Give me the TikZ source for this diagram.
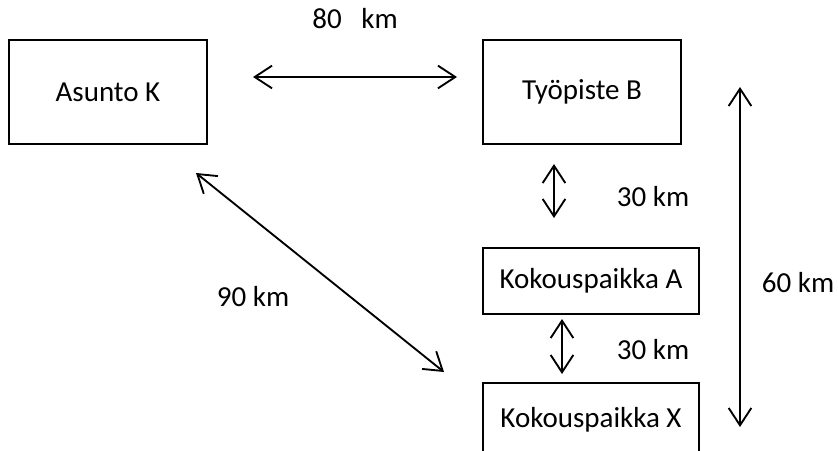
\documentclass[tikz,border=0pt]{standalone}
\usepackage{fontspec}
\setmainfont{Carlito}
\usetikzlibrary{arrows.meta}

\tikzset{
	paikka/.style={draw, line width=1.5pt, inner sep=0pt, font=\fontsize{21.75}{26}\selectfont},
	matka/.style={line width=1.4pt, {Straight Barb[length=13pt,width=17pt,line width=1.4pt]}-{Straight Barb[length=13pt,width=17pt,line width=1.4pt]}},
	lbl/.style={font=\fontsize{21.75}{26}\selectfont}
}

\begin{document}
\begin{tikzpicture}[x=0.75pt, y=-0.75pt]
		\clip (0,0) rectangle (838,450);
		\node[paikka, minimum width=148.5pt, minimum height=78pt] (asunto) at (108,92) {Asunto K};
		\node[paikka, minimum width=148.5pt, minimum height=78pt] (tyopiste) at (582,92) {Työpiste B};
		\node[paikka, minimum width=162pt, minimum height=49.5pt] (kokousA) at (591,281) {Kokouspaikka A};
		\node[paikka, minimum width=162pt, minimum height=55.5pt] (kokousX) at (591,420) {Kokouspaikka X};
		\draw[matka] ([shift={(45,-15)}]asunto.east) -- node[lbl, above=32pt]{80~~~km} ([shift={(-25,-15)}]tyopiste.west);
		\draw[matka] ([shift={(-12,28)}]asunto.south east) -- ([shift={(-38,-10)}]kokousX.north west);
		\draw[matka] ([shift={(-28,19)}]tyopiste.south) -- ([shift={(-37,-29)}]kokousA.north);
		\draw[matka] ([shift={(-29,4)}]kokousA.south) -- ([shift={(-29,-8)}]kokousX.north);
		\draw[matka] ([shift={(58,48)}]tyopiste.north east) -- ([shift={(40,7)}]kokousX.east);
		\node[lbl] (d90) at (253,297) {90 km};
		\node[lbl] (d30a) at (653,197) {30 km};
		\node[lbl] (d30b) at (653,350) {30 km};
		\node[lbl] (d60) at (798,283) {60 km};
		\end{tikzpicture}
\end{document}
